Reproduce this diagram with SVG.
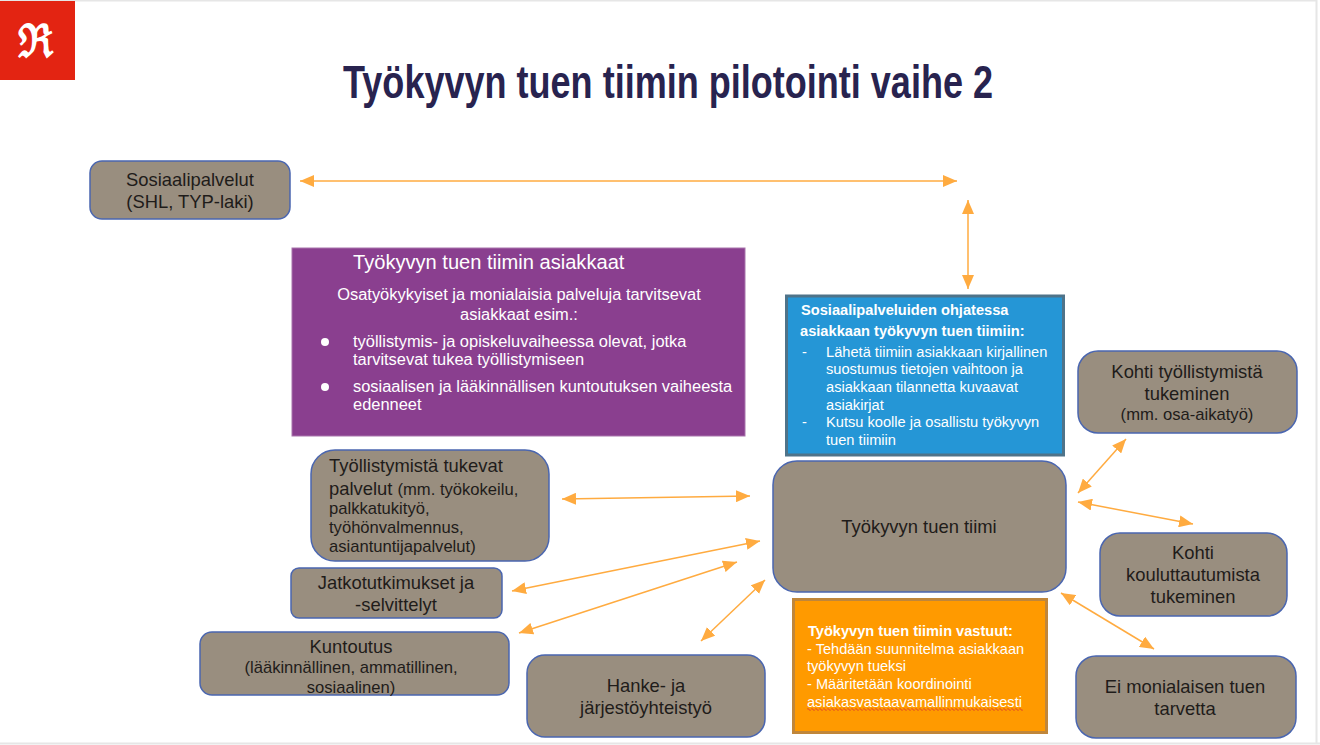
<svg xmlns="http://www.w3.org/2000/svg" width="1320" height="745" viewBox="0 0 1320 745">
<style>
text{font-family:"Liberation Sans",Arial,sans-serif;fill:#1f1c1a;font-size:18.4px}
.c{text-anchor:middle}
.n{fill:#998e7f;stroke:#4a66b0;stroke-width:1.5}
.s{font-size:16.6px}
.p{font-size:16.45px;fill:#fff}
.b{font-size:14.65px;fill:#fff}
.o{font-size:14.6px;fill:#fff}
#connectors line{stroke:#ffab40;stroke-width:1.5;marker-start:url(#h);marker-end:url(#h)}
</style>
<defs>
<marker id="h" markerUnits="userSpaceOnUse" markerWidth="14" markerHeight="12" refX="14" refY="6" orient="auto-start-reverse"><path d="M0 0L14 6L0 12Z" fill="#ffab40"/></marker>
<pattern id="wave" patternUnits="userSpaceOnUse" x="807" y="708" width="4" height="3"><path d="M0 1.500L1 .5L3 2.500L4 1.500" fill="none" stroke="#dc3c28" stroke-width="1"/></pattern>
</defs>
<rect id="page" width="1320" height="745" fill="#fff"/>
<path d="M0 0.500H1316M1316.500 0V743M0 743.500H1320" fill="none" stroke="#e6e6e6" stroke-width="2"/>
<g id="logo"><rect x="0" y="1" width="75" height="79" fill="#e32412"/><text x="18" y="57" textLength="35" lengthAdjust="spacingAndGlyphs" style="font-family:'DejaVu Serif','Liberation Serif',serif;font-size:46px;fill:#fff;font-weight:bold">ℜ</text></g>
<text id="title" class="c" x="668" y="98" textLength="650" lengthAdjust="spacingAndGlyphs" style="font-size:46px;font-weight:bold;fill:#28234f">Työkyvyn tuen tiimin pilotointi vaihe 2</text>
<g id="connectors">
<line x1="300" y1="181" x2="957" y2="181"/>
<line x1="968" y1="200" x2="968" y2="289"/>
<line x1="562" y1="499" x2="750" y2="496"/>
<line x1="760" y1="541" x2="512" y2="591"/>
<line x1="737" y1="562" x2="519" y2="633"/>
<line x1="765" y1="580" x2="701" y2="641"/>
<line x1="1126" y1="439" x2="1078" y2="493"/>
<line x1="1078" y1="502" x2="1193" y2="524"/>
<line x1="1061" y1="593" x2="1154" y2="649"/>
</g>
<g id="sosiaali"><rect class="n" x="90" y="161" width="200" height="58" rx="12"/><text class="c" x="190" y="186">Sosiaalipalvelut</text><text class="c" x="190" y="208">(SHL, TYP-laki)</text></g>
<g id="asiakkaat"><rect x="292" y="248" width="453" height="188" fill="#8a3f8f" stroke="#a874ab"/>
<text x="353" y="269" style="font-size:20.1px;fill:#fff">Työkyvyn tuen tiimin asiakkaat</text>
<text class="c p" x="519" y="300">Osatyökykyiset ja monialaisia palveluja tarvitsevat</text>
<text class="c p" x="519" y="320">asiakkaat esim.:</text>
<circle cx="325" cy="342" r="4" fill="#fff"/>
<text class="p" x="353" y="347">työllistymis- ja opiskeluvaiheessa olevat, jotka</text>
<text class="p" x="353" y="365">tarvitsevat tukea työllistymiseen</text>
<circle cx="325" cy="387" r="4" fill="#fff"/>
<text class="p" x="353" y="392">sosiaalisen ja lääkinnällisen kuntoutuksen vaiheesta</text>
<text class="p" x="353" y="410">edenneet</text></g>
<g id="ohjaus"><rect x="786.500" y="296" width="277" height="159" fill="#2596d6" stroke="#4f7389" stroke-width="3"/>
<text class="b" x="801" y="315" style="font-weight:bold">Sosiaalipalveluiden ohjatessa</text>
<text class="b" x="800" y="336" style="font-weight:bold">asiakkaan työkyvyn tuen tiimiin:</text>
<text class="b" x="802" y="357">-</text><text class="b" x="826" y="357">Lähetä tiimiin asiakkaan kirjallinen</text>
<text class="b" x="826" y="374">suostumus tietojen vaihtoon ja</text>
<text class="b" x="826" y="392">asiakkaan tilannetta kuvaavat</text>
<text class="b" x="826" y="410">asiakirjat</text>
<text class="b" x="802" y="427">-</text><text class="b" x="826" y="427">Kutsu koolle ja osallistu työkyvyn</text>
<text class="b" x="826" y="445">tuen tiimiin</text></g>
<g id="tiimi"><rect class="n" x="773" y="461" width="293" height="131" rx="24"/><text class="c" x="919" y="533">Työkyvyn tuen tiimi</text></g>
<g id="tyollistymista"><rect class="n" x="311" y="450" width="238" height="111" rx="24"/>
<text x="329" y="472">Työllistymistä tukevat</text>
<text x="329" y="495">palvelut <tspan class="s">(mm. työkokeilu,</tspan></text>
<text class="s" x="329" y="514">palkkatukityö,</text>
<text class="s" x="329" y="533">työhönvalmennus,</text>
<text class="s" x="329" y="552">asiantuntijapalvelut)</text></g>
<g id="jatko"><rect class="n" x="291" y="568" width="211" height="50" rx="8"/><text class="c" x="396" y="589">Jatkotutkimukset ja</text><text class="c" x="396" y="611">-selvittelyt</text></g>
<g id="kuntoutus"><rect class="n" x="200" y="632" width="309" height="63" rx="12"/><text class="c" x="351" y="653">Kuntoutus</text><text class="c s" x="351" y="673">(lääkinnällinen, ammatillinen,</text><text class="c s" x="351" y="693">sosiaalinen)</text></g>
<g id="hanke"><rect class="n" x="527" y="655" width="238" height="82" rx="18"/><text class="c" x="646" y="692">Hanke- ja</text><text class="c" x="646" y="714">järjestöyhteistyö</text></g>
<g id="vastuut"><rect x="793.500" y="599.500" width="253" height="133" fill="#ff9a00" stroke="#c0863a" stroke-width="3"/>
<text class="o" x="808" y="636" style="font-weight:bold">Työkyvyn tuen tiimin vastuut:</text>
<text class="o" x="807" y="654">- Tehdään suunnitelma asiakkaan</text>
<text class="o" x="807" y="671">työkyvyn tueksi</text>
<text class="o" x="807" y="689">- Määritetään koordinointi</text>
<text class="o" x="807" y="707">asiakasvastaavamallinmukaisesti</text>
<rect x="807" y="708" width="216" height="3" fill="url(#wave)"/></g>
<g id="kohti1"><rect class="n" x="1078" y="351" width="219" height="82" rx="20"/><text class="c" x="1187" y="378">Kohti työllistymistä</text><text class="c" x="1187" y="400">tukeminen</text><text class="c s" x="1187" y="420">(mm. osa-aikatyö)</text></g>
<g id="kohti2"><rect class="n" x="1100" y="533" width="187" height="83" rx="20"/><text class="c" x="1193" y="559">Kohti</text><text class="c" x="1193" y="581">kouluttautumista</text><text class="c" x="1193" y="603">tukeminen</text></g>
<g id="ei"><rect class="n" x="1076" y="656" width="220" height="82" rx="20"/><text class="c" x="1185" y="693">Ei monialaisen tuen</text><text class="c" x="1185" y="715">tarvetta</text></g>
</svg>
